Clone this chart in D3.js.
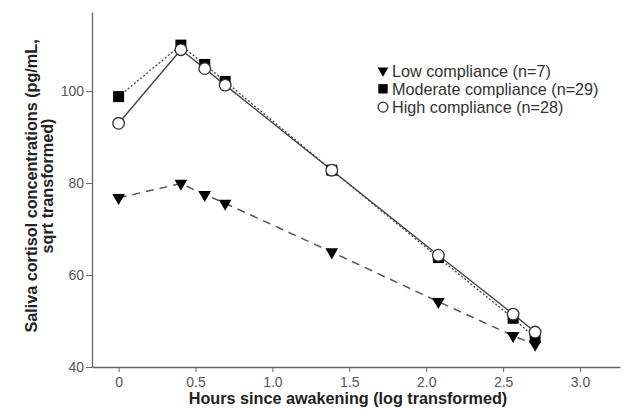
<!DOCTYPE html>
<html><head><meta charset="utf-8">
<script src="https://cdn.jsdelivr.net/npm/d3@7/dist/d3.min.js"></script>
<style>body{margin:0;background:#fff}svg{display:block}</style>
</head><body>
<svg id="c" width="624" height="410"></svg>
<script>
const hours = [0, 0.405, 0.560, 0.693, 1.386, 2.079, 2.565, 2.708];
const lowValues = [76.8, 79.9, 77.5, 75.6, 65.0, 54.2, 46.8, 44.9];
const moderateValues = [98.8, 110.0, 105.8, 102.1, 82.8, 63.8, 50.6, 46.4];
const highValues = [93.0, 109.0, 104.9, 101.3, 82.8, 64.3, 51.5, 47.6];
const seriesNames = ["Low compliance (n=7)", "Moderate compliance (n=29)", "High compliance (n=28)"];
const xTicks = [0, 0.5, 1.0, 1.5, 2.0, 2.5, 3.0];
const xTickLabels = ["0", "0.5", "1.0", "1.5", "2.0", "2.5", "3.0"];
const yTicks = [40, 60, 80, 100];

const svg = d3.select("#c");
const font = "Liberation Sans, Arial, sans-serif";
const x = d3.scaleLinear().domain([-0.173, 3.26]).range([92, 620]);
const y = d3.scaleLinear().domain([40, 117.2]).range([367, 12]);

const axisColor = "#666";
// x axis
const gx = svg.append("g").attr("transform", "translate(0,367)")
  .call(d3.axisBottom(x).tickValues(xTicks).tickFormat((d,i)=>xTickLabels[i]).tickSize(5).tickSizeOuter(0));
gx.select(".domain").attr("stroke", axisColor).attr("stroke-width", 1.3);
gx.selectAll(".tick line").attr("stroke", axisColor);
gx.selectAll(".tick text").attr("font-family", font).attr("font-size", 14).attr("fill", "#555")
  .attr("y", 0).attr("dy", null).attr("transform", "translate(0,387) scale(1,1.1)").attr("transform", null).attr("y", 20);
// y axis
const gy = svg.append("g").attr("transform", "translate(92,0)")
  .call(d3.axisLeft(y).tickValues(yTicks).tickSize(6).tickSizeOuter(0));
gy.select(".domain").attr("stroke", axisColor).attr("stroke-width", 1.3);
gy.selectAll(".tick line").attr("stroke", axisColor);
gy.selectAll(".tick text").attr("font-family", font).attr("font-size", 14).attr("fill", "#555").attr("x", -8);

// titles
svg.append("text").attr("x", 348).attr("y", 404).attr("text-anchor", "middle")
  .attr("font-family", font).attr("font-weight", "bold").attr("font-size", 16.2).attr("fill", "#222")
  .text("Hours since awakening (log transformed)");
const yt = svg.append("text").attr("transform", "translate(0,186) rotate(-90)")
  .attr("text-anchor", "middle").attr("font-family", font).attr("font-weight", "bold").attr("font-size", 16.2).attr("fill", "#222");
yt.append("tspan").attr("x", 0).attr("y", 37).text("Saliva cortisol concentrations (pg/mL,");
yt.append("tspan").attr("x", 0).attr("y", 53).text("sqrt transformed)");

const line = d3.line().x((d,i)=>x(hours[i])).y(d=>y(d));
const lineColor = "#444";
// lines
svg.append("path").datum(lowValues).attr("d", line).attr("fill", "none").attr("stroke", "#555").attr("stroke-width", 1.5).attr("stroke-dasharray", "8,6");
svg.append("path").datum(moderateValues).attr("d", line).attr("fill", "none").attr("stroke", lineColor).attr("stroke-width", 1.3).attr("stroke-dasharray", "2,2");
svg.append("path").datum(highValues).attr("d", line).attr("fill", "none").attr("stroke", lineColor).attr("stroke-width", 1.4);

function drawTri(g, cx, cy, s){ const k = s||1; g.append("path").attr("d", d3.symbol().type(d3.symbolTriangle).size(70*k*k)()).attr("transform", `translate(${cx},${cy}) rotate(180)`).attr("fill", "#000"); }
function drawSq(g, cx, cy, s){ const h = 5.5*(s||1); g.append("rect").attr("x", cx-h).attr("y", cy-h).attr("width", 2*h).attr("height", 2*h).attr("fill", "#000"); }
function drawCirc(g, cx, cy, s){ g.append("circle").attr("cx", cx).attr("cy", cy).attr("r", 5.8*(s||1)).attr("fill", "#fff").attr("stroke", "#333").attr("stroke-width", 1.3); }

const marks = svg.append("g");
lowValues.forEach((v,i)=>drawTri(marks, x(hours[i]), y(v)));
moderateValues.forEach((v,i)=>drawSq(marks, x(hours[i]), y(v)));
highValues.forEach((v,i)=>drawCirc(marks, x(hours[i]), y(v)));

// legend
const lg = svg.append("g");
const drawers = [drawTri, drawSq, drawCirc];
seriesNames.forEach((n,i)=>{
  const cy = 70.5 + i*18.3;
  drawers[i](lg, 383, cy, 0.85);
  lg.append("text").attr("x", 392).attr("y", cy + 6).attr("font-family", font).attr("font-size", 16.2).attr("fill", "#333").text(n);
});
</script>
</body></html>
